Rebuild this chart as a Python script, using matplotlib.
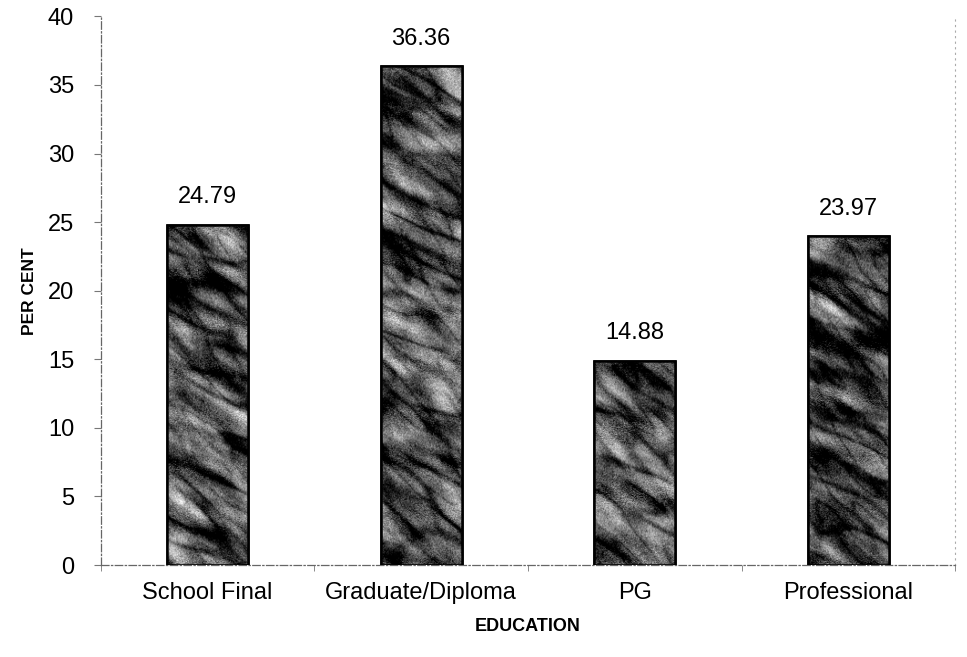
import matplotlib.pyplot as plt
import numpy as np

# Education level vs per cent of respondents
categories = ["School Final", "Graduate/Diploma", "PG", "Professional"]
per_cent = [24.79, 36.36, 14.88, 23.97]
y_ticks = [0, 5, 10, 15, 20, 25, 30, 35, 40]


def Setup_plt():
    plt.rcParams.update({
        "font.family": ["Liberation Sans", "DejaVu Sans"],
        "font.size": 17,
    })
    return


def smooth_field(rng, shape, ang_deg, w_along, w_across):
    # noise filtered in Fourier space -> streaks along ang_deg
    noise = rng.standard_normal(shape)
    fy = np.fft.fftfreq(shape[0])[:, None]
    fx = np.fft.fftfreq(shape[1])[None, :]
    a = np.deg2rad(ang_deg)
    u = fx * np.cos(a) + fy * np.sin(a)
    v = -fx * np.sin(a) + fy * np.cos(a)
    filt = np.exp(-(u / w_along) ** 2 - (v / w_across) ** 2)
    f = np.real(np.fft.ifft2(np.fft.fft2(noise) * filt))
    return f / f.std()


def crumple_texture(shape=(560, 420), seed=7):
    # crumpled-paper look for the bar fill (styling only)
    rng = np.random.default_rng(seed)
    big = smooth_field(rng, shape, 28, 0.012, 0.035)
    mid = smooth_field(rng, shape, 35, 0.03, 0.08)
    c1 = smooth_field(rng, shape, 25, 0.008, 0.03)
    c2 = smooth_field(rng, shape, 45, 0.012, 0.045)
    creases = np.exp(-(c1 / 0.45) ** 2) + 0.6 * np.exp(-(c2 / 0.35) ** 2)
    fine = rng.standard_normal(shape)
    tex = (0.42 + 0.14 * big + 0.08 * mid - 0.30 * creases
           + 0.10 * fine)
    return np.clip(tex, 0, 1)


def plot_bars(ax):
    x = np.arange(len(categories))
    bars = ax.bar(x, per_cent, width=0.38, color="#555555",
                  edgecolor="black", linewidth=1.8, zorder=2)

    tex = crumple_texture()
    rows = tex.shape[0]
    for i, b in enumerate(bars):
        x0 = b.get_x()
        x1 = x0 + b.get_width()
        h = b.get_height()
        n = int(rows * h / 40)
        sub = tex[rows - n:, i * 100:i * 100 + 90]
        im = ax.imshow(sub, extent=[x0, x1, 0, h], aspect="auto",
                       cmap="gray", vmin=0, vmax=1, zorder=2.5,
                       interpolation="bilinear")
        im.set_clip_path(b)
        # outline on top of the texture
        ax.bar(x0 + b.get_width() / 2, h, width=b.get_width(),
               fill=False, edgecolor="black", linewidth=1.8, zorder=3)
        ax.annotate(f"{per_cent[i]:.2f}",
                    (x0 + b.get_width() / 2, h),
                    xytext=(0, 12), textcoords="offset points",
                    ha="center", va="bottom", fontsize=17)

    ax.set_xlim(-0.5, len(categories) - 0.5)
    ax.set_ylim(0, 40)
    ax.set_yticks(y_ticks)
    ax.set_xticks(x)
    ax.set_xticklabels(categories, fontsize=17)
    ax.set_xticks(np.arange(len(categories) + 1) - 0.5, minor=True)
    ax.tick_params(axis="x", which="major", length=0, pad=12)
    ax.tick_params(axis="x", which="minor", length=4, color="#777777")
    ax.tick_params(axis="y", length=5, color="#777777", pad=14, labelsize=17)

    ax.set_xlabel("EDUCATION", fontsize=13, fontweight="bold", labelpad=10)
    ax.set_ylabel("PER CENT", fontsize=12.5, fontweight="bold", labelpad=8)

    ax.spines["top"].set_visible(False)
    ax.spines["right"].set_color("#aaaaaa")
    ax.spines["right"].set_linestyle((0, (1, 4)))
    ax.spines["right"].set_linewidth(0.8)
    for s in ["left", "bottom"]:
        ax.spines[s].set_color("#666666")
        ax.spines[s].set_linestyle((0, (6, 2, 1, 2)))
        ax.spines[s].set_linewidth(0.9)
    return


if __name__ == '__main__':
    Setup_plt()

    fig = plt.figure(figsize=(9.67, 6.57), dpi=100)
    ax = fig.add_axes([0.104, 0.14, 0.884, 0.835])

    plot_bars(ax)

    fig.savefig("out.png", dpi=100)
